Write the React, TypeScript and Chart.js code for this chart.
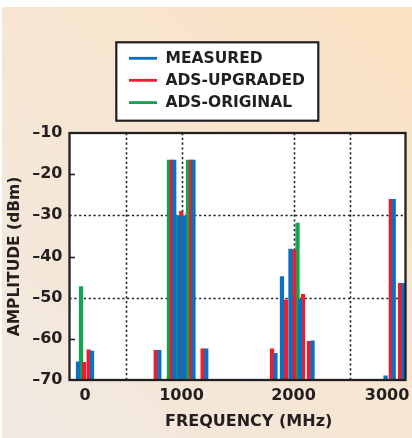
import { useEffect, useRef } from 'react';
import { Chart, registerables } from 'chart.js';

Chart.register(...registerables);

const seriesNames = ['MEASURED', 'ADS-UPGRADED', 'ADS-ORIGINAL'];
const seriesColors = ['#0d6fbd', '#ed1c2e', '#0fa650'];

const measuredFreq = [76, 201, 802, 935, 980, 1022, 1107, 1221, 1839, 1897, 1973, 2058, 2170, 2822, 2895, 2982];
const measuredAmp = [-65.6, -63.0, -62.8, -16.6, -30.2, -30.2, -16.6, -62.4, -63.5, -44.9, -38.2, -50.4, -60.5, -69.0, -26.1, -46.5];
const upgradedFreq = [129, 171, 770, 913, 998, 1085, 1189, 1808, 1933, 2005, 2085, 2138, 2869, 2951];
const upgradedAmp = [-65.7, -62.7, -62.8, -16.6, -29.0, -16.6, -62.4, -62.4, -50.5, -38.4, -49.2, -60.6, -26.1, -46.5];
const originalFreq = [103, 888, 964, 1058, 2036];
const originalAmp = [-47.3, -16.6, -30.0, -16.6, -31.9];

const xTickValues = [138, 1000, 2000, 2835];
const xTickLabels = ['0', '1000', '2000', '3000'];
const xGridValues = [500, 1000, 2000, 2500];
const yGridValues = [-30, -50];
const yMinorTicks = [-20, -40, -60];

const INK = '#231f20';
const FONT = '"DejaVu Sans", sans-serif';

const toPoints = (xs: number[], ys: number[]) => xs.map((x, i) => ({ x, y: ys[i] }));

const decorPlugin = {
  id: 'decor',
  beforeDraw(chart: any) {
    const { ctx, chartArea: a } = chart;
    ctx.save();
    ctx.fillStyle = '#ffffff';
    ctx.fillRect(a.left, a.top, a.right - a.left, a.bottom - a.top);
    ctx.restore();
  },
  beforeDatasetsDraw(chart: any) {
    const { ctx, chartArea: a, scales } = chart;
    ctx.save();
    ctx.strokeStyle = INK;
    ctx.lineWidth = 1.6;
    ctx.setLineDash([2.2, 2.6]);
    xGridValues.forEach((v) => {
      const px = Math.round(scales.x.getPixelForValue(v)) + 0.5;
      ctx.beginPath();
      ctx.moveTo(px, a.top);
      ctx.lineTo(px, a.bottom);
      ctx.stroke();
    });
    yGridValues.forEach((v) => {
      const py = Math.round(scales.y.getPixelForValue(v)) + 0.5;
      ctx.beginPath();
      ctx.moveTo(a.left, py);
      ctx.lineTo(a.right, py);
      ctx.stroke();
    });
    ctx.restore();
  },
  afterDatasetsDraw(chart: any) {
    const { ctx, chartArea: a, scales } = chart;
    ctx.save();
    ctx.strokeStyle = INK;
    ctx.lineWidth = 1.6;
    yMinorTicks.forEach((v) => {
      const py = Math.round(scales.y.getPixelForValue(v)) + 0.5;
      ctx.beginPath();
      ctx.moveTo(a.left, py);
      ctx.lineTo(a.left + 5.5, py);
      ctx.stroke();
    });
    ctx.lineWidth = 2.3;
    ctx.strokeRect(a.left, a.top, a.right - a.left, a.bottom - a.top);
    ctx.restore();
  },
  afterDraw(chart: any) {
    const { ctx } = chart;
    const bx = 114.3, by = 35.3, bw = 202, bh = 78.4;
    ctx.save();
    ctx.fillStyle = '#ffffff';
    ctx.fillRect(bx, by, bw, bh);
    ctx.strokeStyle = INK;
    ctx.lineWidth = 2.2;
    ctx.strokeRect(bx, by, bw, bh);
    const rows = [51.3, 73.3, 95.6];
    chart.data.datasets.forEach((ds: any, i: number) => {
      const y = rows[i];
      ctx.strokeStyle = ds.backgroundColor;
      ctx.lineWidth = 2.8;
      ctx.beginPath();
      ctx.moveTo(127, y);
      ctx.lineTo(155, y);
      ctx.stroke();
      ctx.fillStyle = INK;
      ctx.font = `bold 15.5px ${FONT}`;
      ctx.textBaseline = 'middle';
      ctx.textAlign = 'left';
      ctx.fillText(ds.label, 163.5, y + 0.5);
    });
    ctx.restore();
  },
};

export default function App() {
  const canvasRef = useRef<HTMLCanvasElement | null>(null);

  useEffect(() => {
    document.body.style.margin = '0';
    const canvas = canvasRef.current;
    if (!canvas) return;
    const mk = (i: number, xs: number[], ys: number[]) => ({
      label: seriesNames[i],
      data: toPoints(xs, ys),
      backgroundColor: seriesColors[i],
      borderWidth: 0,
      base: -70,
      barThickness: 3.6,
      grouped: false,
    });
    const chart = new Chart(canvas, {
      type: 'bar',
      data: {
        datasets: [
          mk(0, measuredFreq, measuredAmp),
          mk(1, upgradedFreq, upgradedAmp),
          mk(2, originalFreq, originalAmp),
        ] as any,
      },
      options: {
        animation: false,
        responsive: true,
        maintainAspectRatio: false,
        events: [],
        layout: { padding: { top: 126, right: 6.5, left: 0, bottom: 0 } },
        plugins: { legend: { display: false }, tooltip: { enabled: false } },
        scales: {
          x: {
            type: 'linear',
            min: 0,
            max: 3000,
            offset: false,
            afterBuildTicks: (axis: any) => {
              axis.ticks = xTickValues.map((v) => ({ value: v }));
            },
            afterFit: (s: any) => {
              s.height = 58;
              s.paddingLeft = 0;
              s.paddingRight = 0;
            },
            grid: { display: false, drawTicks: false, offset: false },
            border: { display: false },
            ticks: {
              autoSkip: false,
              maxRotation: 0,
              padding: 6,
              color: INK,
              font: { family: FONT, size: 16, weight: 'bold' },
              callback: (_v: any, i: number) => xTickLabels[i],
            },
            title: {
              display: true,
              text: '\u00a0\u00a0\u00a0\u00a0FREQUENCY (MHz)',
              color: INK,
              font: { family: FONT, size: 16, weight: 'bold' },
              padding: { top: 0, bottom: 6.7 },
            },
          },
          y: {
            min: -70,
            max: -10,
            afterFit: (s: any) => {
              s.width = 67.5;
              s.paddingTop = 0;
              s.paddingBottom = 0;
            },
            grid: { display: false, drawTicks: false },
            border: { display: false },
            ticks: {
              stepSize: 10,
              padding: 7,
              color: INK,
              font: { family: FONT, size: 16, weight: 'bold' },
              callback: (v: any) => '\u2013' + Math.abs(Number(v)),
            },
            title: {
              display: true,
              text: 'AMPLITUDE (dBm)',
              color: INK,
              font: { family: FONT, size: 15.5, weight: 'bold' },
              padding: { top: 3.2, bottom: 0 },
            },
          },
        },
      } as any,
      plugins: [decorPlugin],
    });
    return () => chart.destroy();
  }, []);

  return (
    <div
      style={{
        position: 'absolute',
        left: 2,
        top: 7,
        width: 410,
        height: 431,
        background: 'linear-gradient(to top right, #f1e9e2, #fbe2c2)',
      }}
    >
      <canvas ref={canvasRef} />
    </div>
  );
}
